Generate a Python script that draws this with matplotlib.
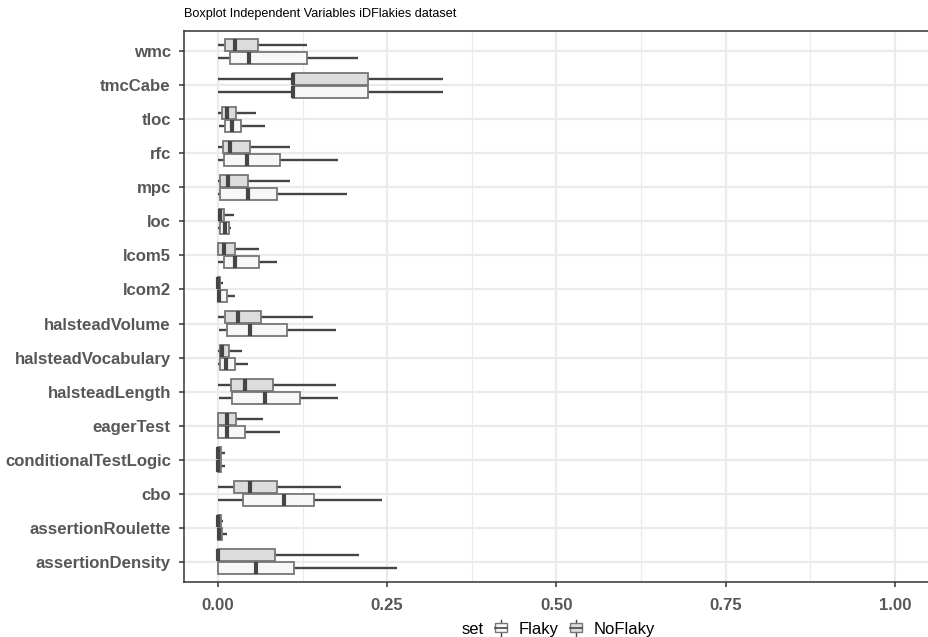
import matplotlib
matplotlib.use("Agg")
import matplotlib.pyplot as plt
from matplotlib.patches import Rectangle
from matplotlib.lines import Line2D
from matplotlib.legend_handler import HandlerBase

plt.rcParams['font.family'] = ['Liberation Sans', 'DejaVu Sans']

# ---------------- data ----------------
categories = ["assertionDensity", "assertionRoulette", "cbo", "conditionalTestLogic",
              "eagerTest", "halsteadLength", "halsteadVocabulary", "halsteadVolume",
              "lcom2", "lcom5", "loc", "mpc", "rfc", "tloc", "tmcCabe", "wmc"]

# Flaky set: whisker low, q1, median, q3, whisker high
flaky_lo  = [0.000, 0.000, 0.000, 0.000, 0.000, 0.002, 0.000, 0.002, 0.000, 0.000, 0.000, 0.000, 0.000, 0.002, 0.000, 0.000]
flaky_q1  = [0.000, 0.000, 0.037, 0.000, 0.000, 0.021, 0.003, 0.013, 0.000, 0.009, 0.0025, 0.003, 0.009, 0.010, 0.111, 0.018]
flaky_med = [0.057, 0.002, 0.098, 0.000, 0.014, 0.069, 0.012, 0.048, 0.002, 0.026, 0.010, 0.045, 0.043, 0.021, 0.111, 0.046]
flaky_q3  = [0.112, 0.006, 0.142, 0.005, 0.040, 0.122, 0.026, 0.102, 0.013, 0.061, 0.016, 0.087, 0.092, 0.034, 0.222, 0.132]
flaky_hi  = [0.264, 0.014, 0.243, 0.010, 0.092, 0.177, 0.044, 0.174, 0.026, 0.087, 0.020, 0.191, 0.177, 0.069, 0.333, 0.207]

# NoFlaky set
noflaky_lo  = [0.000, 0.000, 0.000, 0.000, 0.000, 0.000, 0.000, 0.000, 0.000, 0.000, 0.000, 0.000, 0.000, 0.000, 0.000, 0.000]
noflaky_q1  = [0.000, 0.000, 0.024, 0.000, 0.000, 0.019, 0.0025, 0.011, 0.000, 0.000, 0.001, 0.003, 0.007, 0.006, 0.111, 0.011]
noflaky_med = [0.000, 0.000, 0.048, 0.000, 0.014, 0.040, 0.006, 0.029, 0.000, 0.009, 0.003, 0.015, 0.018, 0.014, 0.111, 0.026]
noflaky_q3  = [0.084, 0.004, 0.088, 0.005, 0.027, 0.082, 0.017, 0.063, 0.003, 0.026, 0.009, 0.045, 0.047, 0.027, 0.222, 0.060]
noflaky_hi  = [0.209, 0.008, 0.182, 0.010, 0.066, 0.175, 0.036, 0.141, 0.007, 0.061, 0.024, 0.106, 0.107, 0.057, 0.333, 0.132]

set_names = ["Flaky", "NoFlaky"]
x_ticks = [0.0, 0.25, 0.5, 0.75, 1.0]
x_ticklabels = ["0.00", "0.25", "0.50", "0.75", "1.00"]
title = "Boxplot Independent Variables iDFlakies dataset"

# ---------------- style ----------------
fills = {"Flaky": "#f7f7f7", "NoFlaky": "#dcdcdc"}
box_edge = "#767676"
line_col = "#454545"
text_col = "#575757"
grid_col = "#ebebeb"

fig = plt.figure(figsize=(9.29, 6.37), dpi=100)
W, H = 929, 637
ax = fig.add_axes([184 / W, (H - 582) / H, 745 / W, 551 / H])

n = len(categories)
pos = list(range(1, n + 1))
dodge = 0.1875
bw = 0.36


def make_stats(lo, q1, med, q3, hi):
    return [dict(whislo=a, q1=b, med=c, q3=d, whishi=e, fliers=[])
            for a, b, c, d, e in zip(lo, q1, med, q3, hi)]


series = [
    ("Flaky", make_stats(flaky_lo, flaky_q1, flaky_med, flaky_q3, flaky_hi), -dodge),
    ("NoFlaky", make_stats(noflaky_lo, noflaky_q1, noflaky_med, noflaky_q3, noflaky_hi), dodge),
]

for name, stats, off in series:
    bp = ax.bxp(stats, positions=[p + off for p in pos], widths=bw,
                orientation='horizontal', patch_artist=True,
                showfliers=False, showcaps=False,
                boxprops=dict(facecolor=fills[name], edgecolor=box_edge, linewidth=1.3),
                whiskerprops=dict(color=line_col, linewidth=1.7, solid_capstyle='butt'),
                medianprops=dict(color=line_col, linewidth=3.0, solid_capstyle='butt'),
                manage_ticks=False)
    for w in bp['whiskers']:
        w.set_zorder(2)
    for b in bp['boxes']:
        b.set_zorder(3)
    for m in bp['medians']:
        m.set_zorder(4)

ax.set_xlim(-0.05, 1.05)
ax.set_ylim(0.4, n + 0.6)
ax.set_xticks(x_ticks)
ax.set_xticklabels(x_ticklabels)
ax.set_xticks([0.125, 0.375, 0.625, 0.875], minor=True)
ax.set_yticks(pos)
ax.set_yticklabels(categories)
ax.set_axisbelow(True)
ax.grid(True, which='major', color=grid_col, linewidth=1.6)
ax.grid(True, which='minor', axis='x', color=grid_col, linewidth=0.9)
ax.tick_params(axis='both', which='major', length=3.5, width=1.1, color='#333333',
               labelcolor=text_col, labelsize=12.1)
ax.tick_params(axis='y', which='major', pad=6)
ax.tick_params(axis='x', which='major', pad=8)
ax.tick_params(axis='both', which='minor', length=0)
for lab in ax.get_xticklabels() + ax.get_yticklabels():
    lab.set_fontweight('bold')
for s in ax.spines.values():
    s.set_color('#333333')
    s.set_linewidth(1.1)

fig.text(184 / W, 1 - 14 / H, title, ha='left', va='center', fontsize=9.1, color='black')


# ---------------- legend ----------------
class BoxKeyHandler(HandlerBase):
    def create_artists(self, legend, orig_handle, xdescent, ydescent, width, height, fontsize, trans):
        fc = orig_handle.get_facecolor()
        cx = -xdescent + width / 2
        bwid = width * 0.8
        top = -ydescent + height * 1.15
        bot = -ydescent - height * 0.15
        b0 = -ydescent + height * 0.15
        b1 = -ydescent + height * 0.85
        w1 = Line2D([cx, cx], [bot, b0], color=line_col, lw=1.0, transform=trans)
        w2 = Line2D([cx, cx], [b1, top], color=line_col, lw=1.0, transform=trans)
        r = Rectangle((cx - bwid / 2, b0), bwid, b1 - b0, facecolor=fc, edgecolor=box_edge,
                      lw=1.0, transform=trans)
        mid = (b0 + b1) / 2
        m = Line2D([cx - bwid / 2, cx + bwid / 2], [mid, mid], color=line_col, lw=1.2, transform=trans)
        return [w1, w2, r, m]


handles = [Rectangle((0, 0), 1, 1, facecolor=fills[s]) for s in set_names]
fig.text(462 / W, 1 - 629 / H, "set", ha='left', va='center', fontsize=12, color='black')
fig.legend(handles, set_names, loc='center left', bbox_to_anchor=(494 / W, 1 - 629 / H),
           ncol=2, frameon=False, fontsize=12, handlelength=0.9, handleheight=0.8,
           handletextpad=0.6, columnspacing=0.6, borderpad=0, borderaxespad=0,
           handler_map={Rectangle: BoxKeyHandler()})

fig.savefig("out.png", dpi=100)
